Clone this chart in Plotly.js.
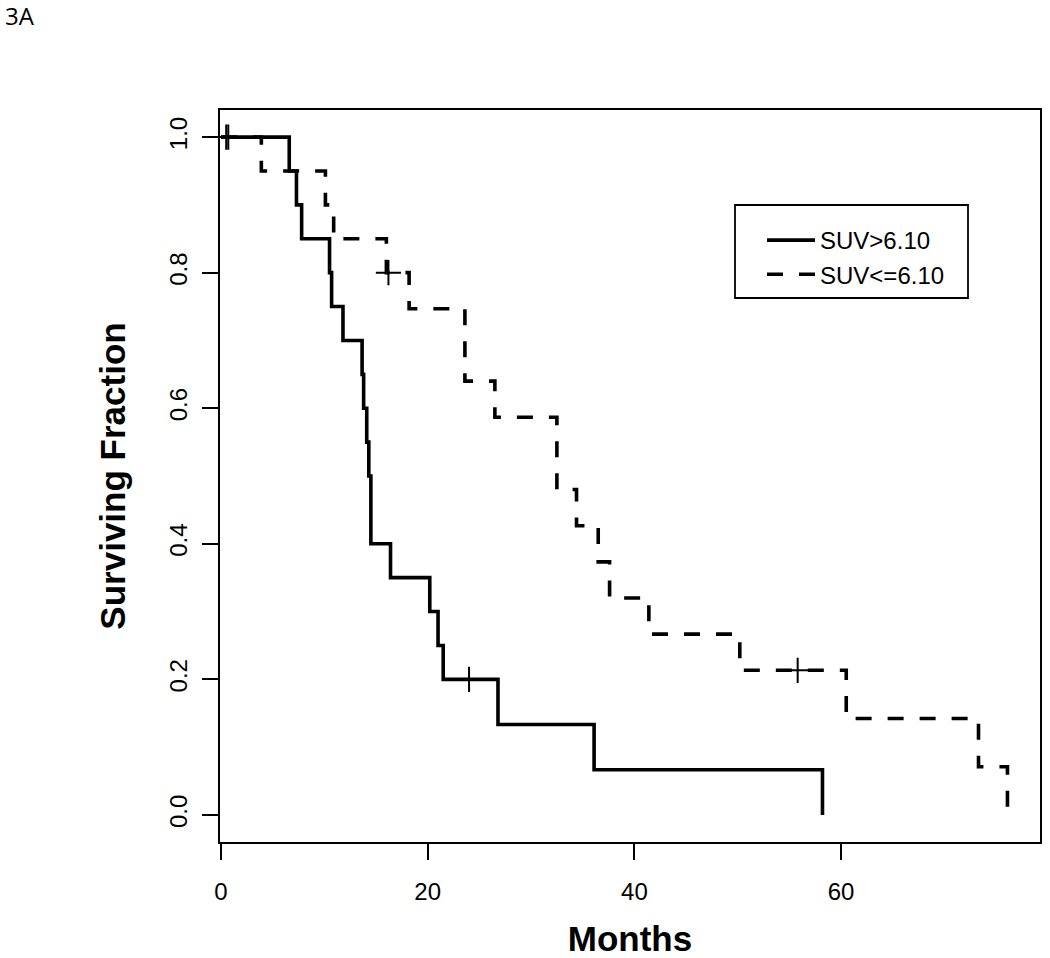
<!DOCTYPE html>
<html>
<head>
<meta charset="utf-8">
<script src="https://cdn.plot.ly/plotly-3.0.1.min.js"></script>
<style>
  html, body { margin: 0; padding: 0; background: #ffffff; }
  #chart { width: 1050px; height: 958px; }
</style>
</head>
<body>
<div id="chart"></div>
<script>
// ---- Data (Kaplan-Meier steps) ----
var highTimes   = [0, 6.6, 7.3, 7.8, 10.5, 10.7, 11.8, 13.65, 13.8, 14.1, 14.3, 14.5, 16.4, 20.2, 21.0, 21.5, 26.8, 36.1, 58.2];
var highSurv    = [1.0, 0.95, 0.90, 0.85, 0.80, 0.75, 0.70, 0.65, 0.60, 0.55, 0.50, 0.40, 0.35, 0.30, 0.25, 0.20, 0.1333, 0.0667, 0.0];
var highCensorT = [24.0];
var highCensorS = [0.20];

var lowTimes    = [0, 3.9, 10.1, 10.9, 16.0, 18.2, 23.6, 26.5, 32.5, 34.4, 36.5, 37.6, 41.4, 50.2, 60.5, 73.3, 76.1];
var lowSurv     = [1.0, 0.95, 0.90, 0.85, 0.80, 0.7467, 0.64, 0.5867, 0.48, 0.4267, 0.3733, 0.32, 0.2667, 0.2133, 0.1422, 0.0711, 0.0];
var lowCensorT  = [0.5, 0.7, 16.2, 55.8];
var lowCensorS  = [1.0, 1.0, 0.80, 0.2133];

var seriesNames = ["SUV>6.10", "SUV<=6.10"];
var xTickVals   = [0, 20, 40, 60];
var yTickVals   = [0.0, 0.2, 0.4, 0.6, 0.8, 1.0];

var lineW = 3.6;
var traces = [
  { x: highTimes, y: highSurv, mode: "lines", name: seriesNames[0],
    line: { shape: "hv", color: "#000000", width: lineW }, hoverinfo: "x+y" },
  { x: lowTimes, y: lowSurv, mode: "lines", name: seriesNames[1],
    line: { shape: "hv", color: "#000000", width: lineW, dash: "16px,16px" }, hoverinfo: "x+y" },
  { x: highCensorT, y: highCensorS, mode: "markers", showlegend: false,
    marker: { symbol: "cross-thin", size: 18, line: { color: "#000000", width: 2 } } },
  { x: lowCensorT, y: lowCensorS, mode: "markers", showlegend: false,
    marker: { symbol: "cross-thin", size: 18, line: { color: "#000000", width: 2 } } }
];

var L = 220, R = 10, T = 110, B = 116, W = 1050, H = 958;
var pw = W - L - R, ph = H - T - B;
function px(xp) { return (xp - L) / pw; }
function py(yp) { return (H - B - yp) / ph; }

var layout = {
  width: W, height: H,
  margin: { l: L, r: R, t: T, b: B, pad: 0 },
  paper_bgcolor: "#ffffff", plot_bgcolor: "#ffffff",
  font: { family: "Liberation Sans, Arial, sans-serif", size: 24, color: "#000000" },
  xaxis: {
    range: [-0.1, 79.25], tickvals: xTickVals, ticktext: xTickVals.map(String),
    showgrid: false, zeroline: false, showline: true, mirror: true,
    linecolor: "#000000", linewidth: 1.8,
    ticks: "outside", ticklen: 16, tickwidth: 1.8, tickcolor: "#000000",
    tickfont: { size: 24 }, ticklabelstandoff: 11,
    title: { text: "Months", font: { size: 35, family: "Liberation Sans, Arial, sans-serif", weight: "bold" }, standoff: 42 }
  },
  yaxis: {
    range: [-0.04, 1.04], tickvals: yTickVals, tickformat: ".1f",
    showgrid: false, zeroline: false, showline: true, mirror: true,
    linecolor: "#000000", linewidth: 1.8,
    ticks: "outside", ticklen: 16, tickwidth: 1.8, tickcolor: "#000000",
    tickangle: -90, tickfont: { size: 24 }, ticklabelstandoff: 6,
    title: { text: "Surviving Fraction", font: { size: 35, family: "Liberation Sans, Arial, sans-serif", weight: "bold" }, standoff: 28 }
  },
  showlegend: true,
  legend: {
    x: px(762), y: py(218), xanchor: "left", yanchor: "top",
    bgcolor: "rgba(0,0,0,0)", borderwidth: 0,
    font: { size: 24, family: "Liberation Sans, Arial, sans-serif" },
    itemwidth: 48, tracegroupgap: 0
  },
  shapes: [
    { type: "rect", xref: "paper", yref: "paper",
      x0: px(735), x1: px(968), y0: py(298), y1: py(205),
      line: { color: "#000000", width: 1.8 }, fillcolor: "rgba(0,0,0,0)" }
  ],
  annotations: [
    { text: "3A", xref: "paper", yref: "paper", x: px(3), y: py(16),
      xanchor: "left", yanchor: "middle", showarrow: false,
      font: { size: 24, family: "Open Sans, sans-serif", color: "#000000" } }
  ]
};

Plotly.newPlot("chart", traces, layout, { displayModeBar: false, staticPlot: true });
</script>
</body>
</html>
